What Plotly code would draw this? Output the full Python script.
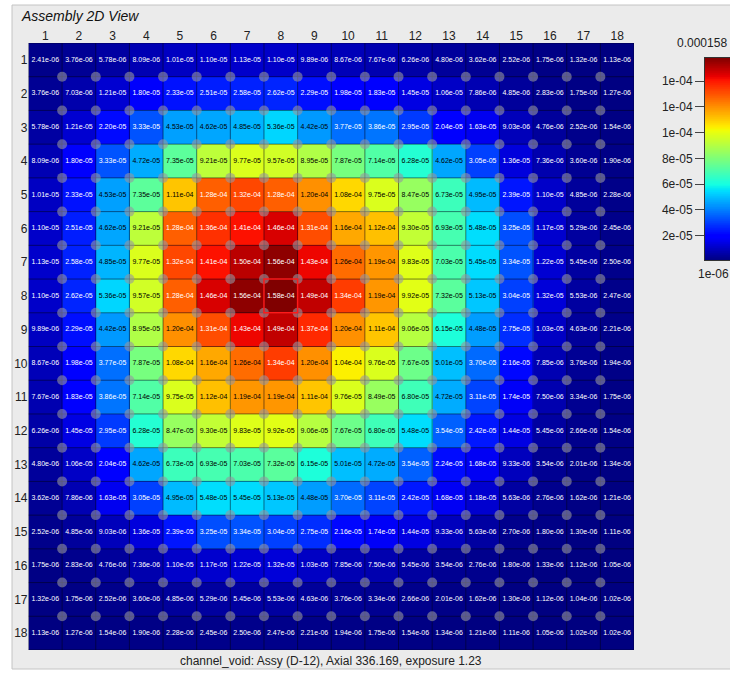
import numpy as np
import plotly.graph_objects as go

W, H = 730, 673

# Assembly pin map: 18 x 18 cells, rows top to bottom
cols = list(range(1, 19))
rows = list(range(1, 19))

row_01 = [2.41e-06, 3.76e-06, 5.78e-06, 8.09e-06, 1.01e-05, 1.10e-05, 1.13e-05, 1.10e-05, 9.89e-06, 8.67e-06, 7.67e-06, 6.26e-06, 4.80e-06, 3.62e-06, 2.52e-06, 1.75e-06, 1.32e-06, 1.13e-06]
row_02 = [3.76e-06, 7.03e-06, 1.21e-05, 1.80e-05, 2.33e-05, 2.51e-05, 2.58e-05, 2.62e-05, 2.29e-05, 1.98e-05, 1.83e-05, 1.45e-05, 1.06e-05, 7.86e-06, 4.85e-06, 2.83e-06, 1.75e-06, 1.27e-06]
row_03 = [5.78e-06, 1.21e-05, 2.20e-05, 3.33e-05, 4.53e-05, 4.62e-05, 4.85e-05, 5.36e-05, 4.42e-05, 3.77e-05, 3.86e-05, 2.95e-05, 2.04e-05, 1.63e-05, 9.03e-06, 4.76e-06, 2.52e-06, 1.54e-06]
row_04 = [8.09e-06, 1.80e-05, 3.33e-05, 4.72e-05, 7.35e-05, 9.21e-05, 9.77e-05, 9.57e-05, 8.95e-05, 7.87e-05, 7.14e-05, 6.28e-05, 4.62e-05, 3.05e-05, 1.36e-05, 7.36e-06, 3.60e-06, 1.90e-06]
row_05 = [1.01e-05, 2.33e-05, 4.53e-05, 7.35e-05, 1.11e-04, 1.28e-04, 1.32e-04, 1.28e-04, 1.20e-04, 1.08e-04, 9.75e-05, 8.47e-05, 6.73e-05, 4.95e-05, 2.39e-05, 1.10e-05, 4.85e-06, 2.28e-06]
row_06 = [1.10e-05, 2.51e-05, 4.62e-05, 9.21e-05, 1.28e-04, 1.36e-04, 1.41e-04, 1.46e-04, 1.31e-04, 1.16e-04, 1.12e-04, 9.30e-05, 6.93e-05, 5.48e-05, 3.25e-05, 1.17e-05, 5.29e-06, 2.45e-06]
row_07 = [1.13e-05, 2.58e-05, 4.85e-05, 9.77e-05, 1.32e-04, 1.41e-04, 1.50e-04, 1.56e-04, 1.43e-04, 1.26e-04, 1.19e-04, 9.83e-05, 7.03e-05, 5.45e-05, 3.34e-05, 1.22e-05, 5.45e-06, 2.50e-06]
row_08 = [1.10e-05, 2.62e-05, 5.36e-05, 9.57e-05, 1.28e-04, 1.46e-04, 1.56e-04, 1.58e-04, 1.49e-04, 1.34e-04, 1.19e-04, 9.92e-05, 7.32e-05, 5.13e-05, 3.04e-05, 1.32e-05, 5.53e-06, 2.47e-06]
row_09 = [9.89e-06, 2.29e-05, 4.42e-05, 8.95e-05, 1.20e-04, 1.31e-04, 1.43e-04, 1.49e-04, 1.37e-04, 1.20e-04, 1.11e-04, 9.06e-05, 6.15e-05, 4.48e-05, 2.75e-05, 1.03e-05, 4.63e-06, 2.21e-06]
row_10 = [8.67e-06, 1.98e-05, 3.77e-05, 7.87e-05, 1.08e-04, 1.16e-04, 1.26e-04, 1.34e-04, 1.20e-04, 1.04e-04, 9.76e-05, 7.67e-05, 5.01e-05, 3.70e-05, 2.16e-05, 7.85e-06, 3.76e-06, 1.94e-06]
row_11 = [7.67e-06, 1.83e-05, 3.86e-05, 7.14e-05, 9.75e-05, 1.12e-04, 1.19e-04, 1.19e-04, 1.11e-04, 9.76e-05, 8.49e-05, 6.80e-05, 4.72e-05, 3.11e-05, 1.74e-05, 7.50e-06, 3.34e-06, 1.75e-06]
row_12 = [6.26e-06, 1.45e-05, 2.95e-05, 6.28e-05, 8.47e-05, 9.30e-05, 9.83e-05, 9.92e-05, 9.06e-05, 7.67e-05, 6.80e-05, 5.48e-05, 3.54e-05, 2.42e-05, 1.44e-05, 5.45e-06, 2.66e-06, 1.54e-06]
row_13 = [4.80e-06, 1.06e-05, 2.04e-05, 4.62e-05, 6.73e-05, 6.93e-05, 7.03e-05, 7.32e-05, 6.15e-05, 5.01e-05, 4.72e-05, 3.54e-05, 2.24e-05, 1.68e-05, 9.33e-06, 3.54e-06, 2.01e-06, 1.34e-06]
row_14 = [3.62e-06, 7.86e-06, 1.63e-05, 3.05e-05, 4.95e-05, 5.48e-05, 5.45e-05, 5.13e-05, 4.48e-05, 3.70e-05, 3.11e-05, 2.42e-05, 1.68e-05, 1.18e-05, 5.63e-06, 2.76e-06, 1.62e-06, 1.21e-06]
row_15 = [2.52e-06, 4.85e-06, 9.03e-06, 1.36e-05, 2.39e-05, 3.25e-05, 3.34e-05, 3.04e-05, 2.75e-05, 2.16e-05, 1.74e-05, 1.44e-05, 9.33e-06, 5.63e-06, 2.70e-06, 1.80e-06, 1.30e-06, 1.11e-06]
row_16 = [1.75e-06, 2.83e-06, 4.76e-06, 7.36e-06, 1.10e-05, 1.17e-05, 1.22e-05, 1.32e-05, 1.03e-05, 7.85e-06, 7.50e-06, 5.45e-06, 3.54e-06, 2.76e-06, 1.80e-06, 1.33e-06, 1.12e-06, 1.05e-06]
row_17 = [1.32e-06, 1.75e-06, 2.52e-06, 3.60e-06, 4.85e-06, 5.29e-06, 5.45e-06, 5.53e-06, 4.63e-06, 3.76e-06, 3.34e-06, 2.66e-06, 2.01e-06, 1.62e-06, 1.30e-06, 1.12e-06, 1.04e-06, 1.02e-06]
row_18 = [1.13e-06, 1.27e-06, 1.54e-06, 1.90e-06, 2.28e-06, 2.45e-06, 2.50e-06, 2.47e-06, 2.21e-06, 1.94e-06, 1.75e-06, 1.54e-06, 1.34e-06, 1.21e-06, 1.11e-06, 1.05e-06, 1.02e-06, 1.02e-06]

values = [row_01, row_02, row_03, row_04, row_05, row_06, row_07, row_08, row_09,
          row_10, row_11, row_12, row_13, row_14, row_15, row_16, row_17, row_18]

zmin = 1e-06
zmax = 0.000158
selected_cell = (8, 8)  # (column, row)
cbar_ticks = [2e-05, 4e-05, 6e-05, 8e-05, 1e-04, 1.2e-04, 1.4e-04]

title_text = "Assembly 2D View"
caption = "channel_void: Assy (D-12), Axial 336.169, exposure 1.23"

FONT = "Liberation Sans, Arial, Helvetica, sans-serif"


def jet(t):
    """Classic 'jet' map (matplotlib segment definition) -> rgb string."""
    def seg(pts, t):
        xs = [p[0] for p in pts]
        ys = [p[1] for p in pts]
        return float(np.interp(t, xs, ys))
    r = seg([(0, 0), (0.35, 0), (0.66, 1), (0.89, 1), (1, 0.5)], t)
    g = seg([(0, 0), (0.125, 0), (0.375, 1), (0.64, 1), (0.91, 0), (1, 0)], t)
    b = seg([(0, 0.5), (0.11, 1), (0.34, 1), (0.65, 0), (1, 0)], t)
    return f"rgb({round(r * 255)},{round(g * 255)},{round(b * 255)})"


stops = sorted(set([i / 40 for i in range(41)] +
                   [0.11, 0.125, 0.34, 0.35, 0.375, 0.64, 0.65, 0.66, 0.89, 0.91]))
jet_scale = [[s, jet(s)] for s in stops]


# pixel -> paper helpers (margins are zero, so paper == page)
def px(x):
    return x / W


def py(y):
    return 1 - y / H


n_cols = len(cols)
n_rows = len(rows)

fig = go.Figure()

# main pin map
fig.add_trace(go.Heatmap(
    x=cols, y=rows, z=values,
    zmin=zmin, zmax=zmax, colorscale=jet_scale, showscale=False,
    hoverinfo="skip",
))

# thin cell borders
bx, by = [], []
for k in range(n_cols + 1):
    xv = 0.5 + k
    bx += [xv, xv, None]
    by += [0.5, n_rows + 0.5, None]
for k in range(n_rows + 1):
    yv = 0.5 + k
    bx += [0.5, n_cols + 0.5, None]
    by += [yv, yv, None]
fig.add_trace(go.Scatter(
    x=bx, y=by, mode="lines",
    line=dict(color="rgba(0,0,20,0.5)", width=1),
    hoverinfo="skip", showlegend=False,
))

# guide-tube markers at interior grid vertices
dx, dy = [], []
for r in range(1, n_rows):
    for c in range(1, n_cols):
        dx.append(c + 0.5)
        dy.append(r + 0.5)
fig.add_trace(go.Scatter(
    x=dx, y=dy, mode="markers",
    marker=dict(size=10, color="rgba(150,150,160,0.6)", line=dict(width=0)),
    hoverinfo="skip", showlegend=False,
))

# value labels
tx, ty, tt, tc = [], [], [], []
for ri, r in enumerate(rows):
    for ci, c in enumerate(cols):
        v = values[ri][ci]
        tx.append(c)
        ty.append(r)
        tt.append(f"{v:.2e}")
        tc.append("white" if (v < 4.0e-05 or v > 1.27e-04) else "black")
fig.add_trace(go.Scatter(
    x=tx, y=ty, mode="text", text=tt,
    textfont=dict(family=FONT, size=7, color=tc),
    hoverinfo="skip", showlegend=False,
))

# colour bar drawn as a narrow heatmap with its own axes
cb_vals = np.linspace(zmin, zmax, 300)
fig.add_trace(go.Heatmap(
    x=[0], y=cb_vals, z=[[v] for v in cb_vals],
    zmin=zmin, zmax=zmax, colorscale=jet_scale, showscale=False,
    xaxis="x2", yaxis="y2", hoverinfo="skip",
))

sc, sr = selected_cell
shapes = [
    # panel background
    dict(type="rect", xref="paper", yref="paper",
         x0=px(12), x1=px(W + 5), y0=py(669), y1=py(5),
         fillcolor="#ebebeb", line=dict(color="#c4c4c4", width=1), layer="below"),
    # selected cell outline
    dict(type="rect", xref="x", yref="y",
         x0=sc - 0.5, x1=sc + 0.5, y0=sr - 0.5, y1=sr + 0.5,
         line=dict(color="#ff1a1a", width=1.5), fillcolor="rgba(0,0,0,0)"),
]

annotations = [
    dict(text=f"<i>{title_text}</i>", xref="paper", yref="paper",
         x=px(19), y=py(16), xanchor="left", yanchor="middle", showarrow=False,
         font=dict(family=FONT, size=14, color="#111")),
    dict(text=caption, xref="paper", yref="paper",
         x=px(331), y=py(661), xanchor="center", yanchor="middle", showarrow=False,
         font=dict(family=FONT, size=12, color="#222")),
    dict(text=f"{zmax:g}", xref="paper", yref="paper",
         x=px(729), y=py(43), xanchor="right", yanchor="middle", showarrow=False,
         font=dict(family=FONT, size=12, color="#222")),
    dict(text=f"{zmin:g}", xref="paper", yref="paper",
         x=px(713), y=py(274), xanchor="center", yanchor="middle", showarrow=False,
         font=dict(family=FONT, size=12, color="#222")),
]

fig.update_layout(
    width=W, height=H,
    margin=dict(l=0, r=0, t=0, b=0, pad=0),
    paper_bgcolor="white",
    plot_bgcolor="rgba(0,0,0,0)",
    showlegend=False,
    shapes=shapes,
    annotations=annotations,
    xaxis=dict(
        domain=[px(28.5), px(634)], range=[0.5, n_cols + 0.5],
        side="top", tickmode="array", tickvals=cols, ticktext=[str(c) for c in cols],
        showgrid=False, zeroline=False, showline=False, ticks="",
        tickfont=dict(family=FONT, size=12, color="#222"), fixedrange=True,
    ),
    yaxis=dict(
        domain=[py(650), py(43)], range=[n_rows + 0.5, 0.5],
        tickmode="array", tickvals=rows, ticktext=[str(r) for r in rows],
        showgrid=False, zeroline=False, showline=False, ticks="",
        tickfont=dict(family=FONT, size=12, color="#222"), fixedrange=True,
    ),
    xaxis2=dict(
        domain=[px(705), 1.0], range=[-0.5, 0.5], anchor="y2",
        showticklabels=False, showgrid=False, zeroline=False, ticks="",
        showline=True, mirror=True, linecolor="#333", linewidth=1,
    ),
    yaxis2=dict(
        domain=[py(260), py(58)], range=[zmin, zmax], anchor="x2", side="left",
        tickmode="array", tickvals=cbar_ticks, ticktext=[f"{t:.0e}" for t in cbar_ticks],
        ticks="outside", ticklen=9, tickcolor="#444", tickwidth=1,
        showgrid=False, zeroline=False, showline=True, linecolor="#333", linewidth=1,
        tickfont=dict(family=FONT, size=12, color="#222"),
    ),
)

fig.write_html("out.html")
